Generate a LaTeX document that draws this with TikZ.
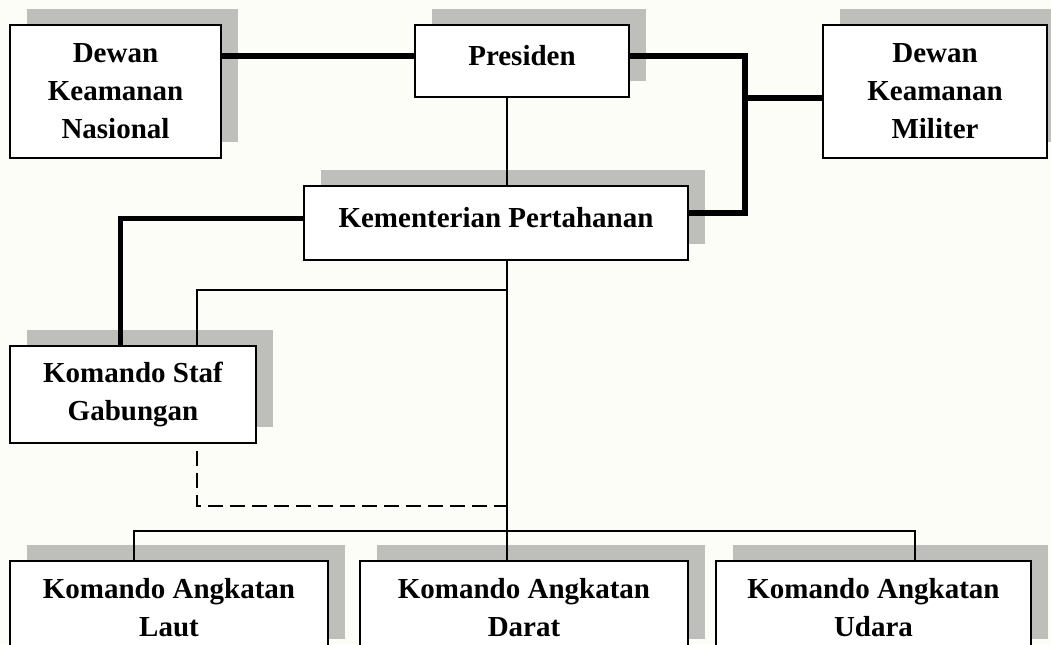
\documentclass[tikz,border=0pt]{standalone}
\usepackage{fontspec}
\setmainfont{Liberation Serif}
\usetikzlibrary{shadows}
\definecolor{bgcream}{RGB}{253,253,247}
\definecolor{shadowgray}{RGB}{190,190,186}
\tikzset{
	kotak/.style={draw, line width=0.9pt, fill=white, align=center, inner sep=0pt,
		font=\fontsize{14.5}{19}\selectfont\bfseries,
		general shadow={fill=shadowgray, shadow xshift=8.5pt, shadow yshift=8pt}},
	satubaris/.style={text depth=6pt},
	tebal/.style={line width=2.9pt},
	tipis/.style={line width=0.7pt},
}
\begin{document}
\begin{tikzpicture}[x=0.5pt, y=-0.5pt]
		
		\fill[bgcream] (0,0) rectangle (1051,644);
		\useasboundingbox (0,0) rectangle (1051,644);
		
		\node[kotak, minimum width=105.5pt, minimum height=66.5pt] (dkn) at (115.5,91.5) {Dewan\\Keamanan\\Nasional};
		\node[kotak, satubaris, minimum width=107pt, minimum height=36pt] (pres) at (522,61) {Presiden};
		\node[kotak, minimum width=112pt, minimum height=66.5pt] (dkm) at (935,91.5) {Dewan\\Keamanan\\Militer};
		\node[kotak, satubaris, minimum width=192pt, minimum height=37pt] (kem) at (496,223) {Kementerian Pertahanan};
		\node[kotak, minimum width=123pt, minimum height=48.5pt] (ksg) at (133,394.5) {Komando Staf\\Gabungan};
		\node[kotak, minimum width=159pt, minimum height=47pt] (laut) at (169,608) {Komando Angkatan\\Laut};
		\node[kotak, minimum width=164pt, minimum height=47pt] (darat) at (524,608) {Komando Angkatan\\Darat};
		\node[kotak, minimum width=157.5pt, minimum height=47pt] (udara) at (873.5,608) {Komando Angkatan\\Udara};
		
		\coordinate (spine) at (507,0);
		\coordinate (jr) at (745,98);
		\coordinate (jl) at (120.5,0);
		\coordinate (cabang) at (197,290);
		\coordinate (putus) at (197,506);
		\coordinate (busL) at (134,531);
		\coordinate (busR) at (915,531);
		
		\draw[tebal] ([yshift=2.5pt]pres.west) -- ([yshift=2.5pt]pres.west -| dkn.east);
		\draw[tebal] ([yshift=2.5pt]pres.east) -| (jr) |- ([yshift=5pt]kem.east);
		\draw[tebal] (jr) -- (jr -| dkm.west);
		\draw[tebal] ([yshift=2.25pt]kem.west) -| (jl |- ksg.north);
		
		\draw[tipis] (spine |- pres.south) -- (spine |- kem.north);
		\draw[tipis] (spine |- kem.south) -- (spine |- darat.north);
		\draw[tipis] (spine |- cabang) -- (cabang) -- (cabang |- ksg.north);
		\draw[tipis, dash pattern=on 7.5pt off 3.5pt] ([yshift=-3.5pt]putus |- ksg.south) -- (putus) -- (spine |- putus);
		\draw[tipis] (laut.north -| busL) -- (busL) -- (busR) -- (udara.north -| busR);
		
	\end{tikzpicture}
\end{document}
